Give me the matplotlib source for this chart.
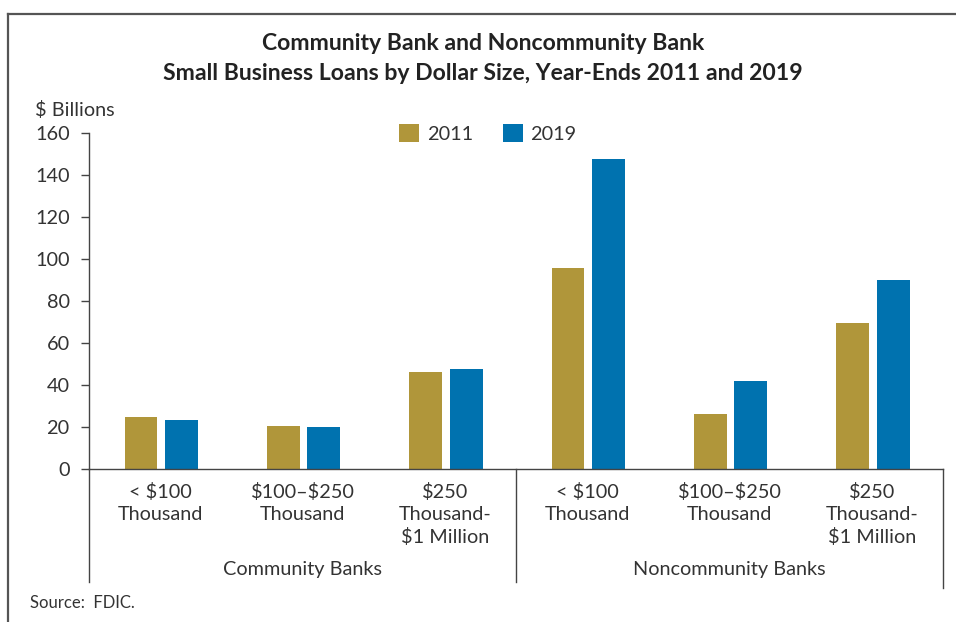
import matplotlib
matplotlib.use("Agg")
import matplotlib.pyplot as plt
import matplotlib.transforms as mtransforms
from matplotlib.lines import Line2D

plt.rcParams['font.family'] = ['Lato', 'DejaVu Sans']

# data ($ billions)
categories = ["< \\$100\nThousand", "\\$100\u2013\\$250\nThousand", "\\$250\nThousand-\n\\$1 Million",
              "< \\$100\nThousand", "\\$100\u2013\\$250\nThousand", "\\$250\nThousand-\n\\$1 Million"]
groups = ["Community Banks", "Noncommunity Banks"]
loans_2011 = [24.9, 20.5, 46.2, 95.7, 26.2, 69.5]
loans_2019 = [23.3, 20.1, 47.6, 147.6, 41.9, 90.0]

gold = "#B0963A"
blue = "#0072AF"
txt = "#333333"
fs = 14.3

W, H = 956, 622
fig = plt.figure(figsize=(W / 100, H / 100), dpi=100)

# outer frame (top and left edges visible)
fig.add_artist(Line2D([8 / W, 1], [1 - 14 / H, 1 - 14 / H], color="#555555", lw=1.6,
                      transform=fig.transFigure))
fig.add_artist(Line2D([8 / W, 8 / W], [0, 1 - 14 / H], color="#555555", lw=1.6,
                      transform=fig.transFigure))

ax = fig.add_axes([89 / W, (H - 469) / H, (943 - 89) / W, (469 - 133) / H])

x = list(range(len(categories)))
w = 0.23
ax.bar([i - 0.135 for i in x], loans_2011, w, color=gold, label="2011")
ax.bar([i + 0.15 for i in x], loans_2019, w, color=blue, label="2019")

ax.set_xlim(-0.5, 5.5)
ax.set_ylim(0, 160)
ax.set_yticks(range(0, 161, 20))
ax.tick_params(axis="y", length=6, width=1, colors="#444444", labelcolor=txt,
               labelsize=fs, pad=8)
ax.set_xticks(x)
ax.set_xticklabels(categories, fontsize=fs, color=txt, linespacing=1.36, va="top")
ax.tick_params(axis="x", length=0, pad=10)

for s in ["top", "right"]:
    ax.spines[s].set_visible(False)
for s in ["left", "bottom"]:
    ax.spines[s].set_color("#444444")
    ax.spines[s].set_linewidth(1)

# group dividers extending below the axis
trans = mtransforms.blended_transform_factory(ax.transData, ax.transAxes)
for xd, ybot in [(-0.5, -0.336), (2.5, -0.336), (5.5, -0.354)]:
    ax.plot([xd, xd], [0, ybot], color="#444444", lw=1, transform=trans, clip_on=False)

for gi, g in enumerate(groups):
    ax.text(1 + 3 * gi, -0.3, g, transform=trans, ha="center", va="center",
            fontsize=fs, color=txt)

ax.legend(loc="upper center", bbox_to_anchor=(0.467, 1.08), ncol=2, frameon=False,
          fontsize=fs, handlelength=1.0, handleheight=1.0, columnspacing=1.5,
          handletextpad=0.4, labelcolor=txt)

fig.text(483 / W, 1 - 44 / H, "Community Bank and Noncommunity Bank", ha="center",
         va="center", fontsize=16.6, fontweight="bold", color="#222222")
fig.text(483 / W, 1 - 74 / H, "Small Business Loans by Dollar Size, Year-Ends 2011 and 2019",
         ha="center", va="center", fontsize=16.6, fontweight="bold", color="#222222")
fig.text(35 / W, 1 - 110 / H, "$ Billions", ha="left", va="center", fontsize=fs, color=txt)
fig.text(30 / W, 1 - 603 / H, "Source:  FDIC.", ha="left", va="center", fontsize=12, color=txt)

fig.savefig("out.png", dpi=100)
